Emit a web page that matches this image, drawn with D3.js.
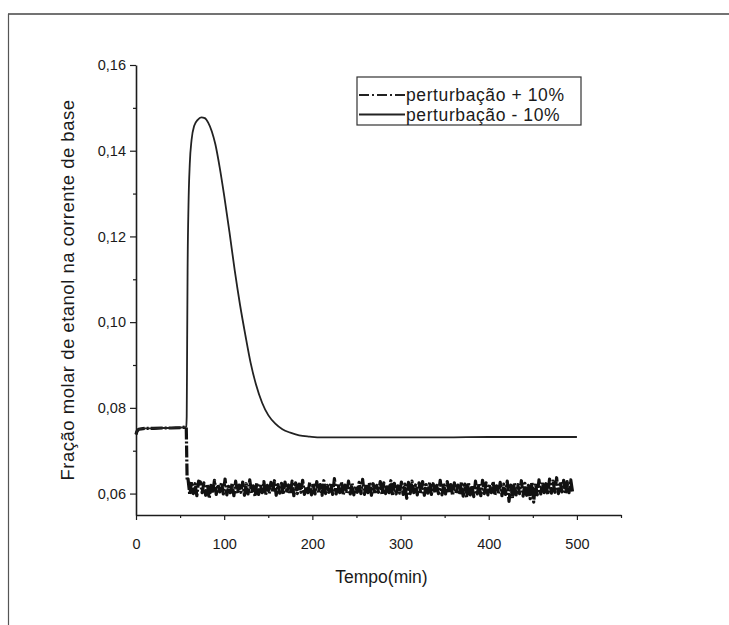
<!DOCTYPE html>
<html>
<head>
<meta charset="utf-8">
<script src="https://cdn.jsdelivr.net/npm/d3@7"></script>
<style>
  html, body { margin: 0; padding: 0; background: #fff; }
  svg { display: block; }
  text { font-family: "Liberation Sans", Arial, sans-serif; fill: #1a1a1a; }
</style>
</head>
<body>
<svg id="chart" width="729" height="625"></svg>
<script>
// Ethanol mole fraction in the bottoms stream after a feed disturbance.

// Series "perturbação - 10%" (solid line): time in minutes and mole fraction
const minusTime = [0, 1, 3, 6, 10, 20, 30, 40, 50, 56, 57, 57.5, 58, 58.5, 59.5, 61, 63, 66, 70, 74,
  78, 82, 86, 90, 95, 100, 106, 112, 118, 124, 130, 136, 143, 150, 158, 166, 175, 185, 197, 210,
  250, 300, 350, 400, 450, 500];
const minusValue = [0.0738, 0.0745, 0.0750, 0.0751, 0.0752, 0.0752, 0.0753, 0.0753, 0.0754, 0.0755, 0.0756, 0.0780, 0.0950, 0.1120, 0.1270, 0.1370, 0.1425, 0.1458, 0.1472, 0.1478,
  0.1476, 0.1465, 0.1445, 0.1415, 0.1360, 0.1295, 0.1210, 0.1120, 0.1040, 0.0970, 0.0905, 0.0855, 0.0812, 0.0783, 0.0763, 0.0750, 0.0742, 0.0736, 0.0733, 0.0731,
  0.0731, 0.0731, 0.0731, 0.0732, 0.0732, 0.0732];

// Series "perturbação + 10%" (dash-dot line): steady part before the step
const plusTime = [0, 1, 3, 6, 10, 20, 30, 40, 50, 56, 57, 58];
const plusValue = [0.0738, 0.0745, 0.0750, 0.0751, 0.0752, 0.0752, 0.0753, 0.0753, 0.0754, 0.0755, 0.0755, 0.0630];
// ...then readings every 2 min from t = 59 to t = 495
const plusNoisyStart = 59;
const plusNoisyStep = 2;
const plusNoisyValue = [
  0.0634, 0.0597, 0.0627, 0.0600, 0.0623, 0.0595, 0.0629,
  0.0627, 0.0602, 0.0625, 0.0596, 0.0622, 0.0589, 0.0619, 0.0601, 0.0631, 0.0598,
  0.0621, 0.0604, 0.0626, 0.0599, 0.0634, 0.0597, 0.0617, 0.0602, 0.0624, 0.0595,
  0.0629, 0.0600, 0.0620, 0.0603, 0.0627, 0.0596, 0.0623, 0.0599, 0.0632, 0.0601,
  0.0618, 0.0593, 0.0625, 0.0598, 0.0622, 0.0602, 0.0628, 0.0597, 0.0619, 0.0600,
  0.0626, 0.0603, 0.0630, 0.0596, 0.0621, 0.0601, 0.0624, 0.0598, 0.0627, 0.0602,
  0.0620, 0.0599, 0.0629, 0.0595, 0.0625, 0.0600, 0.0622, 0.0603, 0.0631, 0.0598,
  0.0617, 0.0602, 0.0626, 0.0597, 0.0623, 0.0599, 0.0628, 0.0601, 0.0621, 0.0596,
  0.0630, 0.0600, 0.0619, 0.0603, 0.0625, 0.0598, 0.0635, 0.0599, 0.0622, 0.0602,
  0.0627, 0.0596, 0.0620, 0.0601, 0.0629, 0.0599, 0.0624, 0.0597, 0.0618, 0.0603,
  0.0626, 0.0600, 0.0633, 0.0598, 0.0621, 0.0602, 0.0627, 0.0596, 0.0623, 0.0599,
  0.0619, 0.0603, 0.0628, 0.0597, 0.0625, 0.0600, 0.0621, 0.0602, 0.0630, 0.0595,
  0.0624, 0.0599, 0.0618, 0.0601, 0.0627, 0.0598, 0.0622, 0.0589, 0.0626, 0.0600,
  0.0629, 0.0602, 0.0620, 0.0597, 0.0625, 0.0599, 0.0628, 0.0596, 0.0621, 0.0601,
  0.0626, 0.0598, 0.0623, 0.0602, 0.0619, 0.0600, 0.0631, 0.0597, 0.0624, 0.0599,
  0.0628, 0.0603, 0.0621, 0.0596, 0.0625, 0.0601, 0.0620, 0.0598, 0.0627, 0.0594,
  0.0622, 0.0591, 0.0626, 0.0597, 0.0619, 0.0593, 0.0629, 0.0599, 0.0623, 0.0595,
  0.0631, 0.0600, 0.0625, 0.0597, 0.0621, 0.0602, 0.0628, 0.0596, 0.0618, 0.0599,
  0.0626, 0.0595, 0.0622, 0.0598, 0.0629, 0.0582, 0.0620, 0.0589, 0.0625, 0.0597,
  0.0621, 0.0600, 0.0630, 0.0594, 0.0624, 0.0596, 0.0619, 0.0588, 0.0627, 0.0580,
  0.0625, 0.0597, 0.0632, 0.0599, 0.0628, 0.0602, 0.0623, 0.0598, 0.0634, 0.0601,
  0.0629, 0.0603, 0.0637, 0.0600, 0.0627, 0.0604, 0.0631, 0.0599, 0.0628, 0.0602,
  0.0632, 0.0605
];

// Axis ticks and labels
const xMajorTicks = [0, 100, 200, 300, 400, 500];
const xMinorTicks = [50, 150, 250, 350, 450, 550];
const yMajorTicks = [0.06, 0.08, 0.10, 0.12, 0.14, 0.16];
const yMinorTicks = [0.07, 0.09, 0.11, 0.13, 0.15];
const legendLabels = ["perturbação + 10%", "perturbação - 10%"];
const xTitle = "Tempo(min)";
const yTitle = "Fração molar de etanol na corrente de base";

const svg = d3.select("#chart");
const ink = "#1c1c1c";

// page frame lines
svg.append("line").attr("x1", 8).attr("x2", 729).attr("y1", 14).attr("y2", 14)
  .attr("stroke", "#444").attr("stroke-width", 1.3);
svg.append("line").attr("x1", 8.5).attr("x2", 8.5).attr("y1", 14).attr("y2", 625)
  .attr("stroke", "#555").attr("stroke-width", 1.2);

const plot = { left: 136, right: 621, top: 65, bottom: 515 };

const x = d3.scaleLinear().domain([0, 550]).range([plot.left, plot.right]);
const y = d3.scaleLinear().domain([0.055, 0.16]).range([plot.bottom, plot.top]);

const fmt = d => d3.format(".2f")(d).replace(".", ",");

// Y axis
svg.append("g").attr("transform", `translate(${plot.left},0)`)
  .call(d3.axisLeft(y).tickValues(yMajorTicks).tickFormat(fmt).tickSize(6).tickSizeOuter(0).tickPadding(4));
svg.append("g").attr("transform", `translate(${plot.left},0)`)
  .call(d3.axisLeft(y).tickValues(yMinorTicks).tickFormat("").tickSize(3).tickSizeOuter(0))
  .select(".domain").remove();

// X axis
svg.append("g").attr("transform", `translate(0,${plot.bottom})`)
  .call(d3.axisBottom(x).tickValues(xMajorTicks).tickFormat(d3.format("d")).tickSize(5).tickSizeOuter(0).tickPadding(19));
svg.append("g").attr("transform", `translate(0,${plot.bottom})`)
  .call(d3.axisBottom(x).tickValues(xMinorTicks).tickFormat("").tickSize(3).tickSizeOuter(0))
  .select(".domain").remove();

svg.selectAll(".domain").attr("stroke", ink).attr("stroke-width", 1.6);
svg.selectAll(".tick line").attr("stroke", ink).attr("stroke-width", 1.2);
svg.selectAll(".tick text").attr("font-size", 14.5).attr("fill", "#222")
  .attr("font-family", "'Liberation Sans', Arial, sans-serif");

// Axis titles
svg.append("text").attr("x", (plot.left + plot.right) / 2 + 3).attr("y", 583)
  .attr("text-anchor", "middle").attr("font-size", 17.5).text(xTitle);
svg.append("text")
  .attr("transform", `translate(74,${(plot.top + plot.bottom) / 2}) rotate(-90)`)
  .attr("text-anchor", "middle").attr("font-size", 18.5).attr("letter-spacing", 0.5).text(yTitle);

// Lines
const line = d3.line().x(d => x(d[0])).y(d => y(d[1]));

const minusData = minusTime.map((t, i) => [t, minusValue[i]]);
const plusData = plusTime.map((t, i) => [t, plusValue[i]])
  .concat(plusNoisyValue.map((v, i) => [plusNoisyStart + i * plusNoisyStep, v]));

svg.append("path").datum(plusData)
  .attr("d", line)
  .attr("fill", "none").attr("stroke", "#111").attr("stroke-width", 3.2)
  .attr("stroke-linejoin", "round")
  .attr("stroke-dasharray", "12,2,2,2");

svg.append("path").datum(minusData)
  .attr("d", line.curve(d3.curveMonotoneX))
  .attr("fill", "none").attr("stroke", "#222").attr("stroke-width", 1.8);

// Legend
const lg = svg.append("g");
lg.append("rect").attr("x", 357).attr("y", 77).attr("width", 224).attr("height", 48)
  .attr("fill", "none").attr("stroke", "#333").attr("stroke-width", 1.2);
const rows = [
  { label: legendLabels[0], dash: "10,3,2,3", w: 2.2 },
  { label: legendLabels[1], dash: null, w: 1.8 }
];
rows.forEach((r, i) => {
  const cy = 95 + i * 19.5;
  lg.append("line").attr("x1", 359).attr("x2", 405).attr("y1", cy).attr("y2", cy)
    .attr("stroke", "#222").attr("stroke-width", r.w)
    .attr("stroke-dasharray", r.dash);
  lg.append("text").attr("x", 406).attr("y", cy + 6).attr("font-size", 17.5)
    .attr("letter-spacing", 0.6).text(r.label);
});
</script>
</body>
</html>
